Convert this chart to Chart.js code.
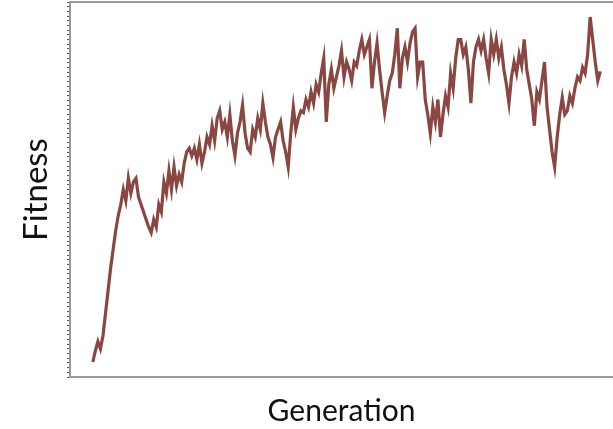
<!DOCTYPE html>
<html>
<head>
<meta charset="utf-8">
<script src="https://cdn.jsdelivr.net/npm/chart.js@4.4.0/dist/chart.umd.min.js"></script>
<style>
  html, body { margin: 0; padding: 0; background: #ffffff; overflow: hidden; }
  #wrap { width: 613px; height: 429px; position: relative; }
</style>
</head>
<body>
<div id="wrap"><canvas id="fitnessChart"></canvas></div>
<script>
// first generation plotted, and fitness per generation
const firstGeneration = 9;
const fitnessValues = [
  4, 7, 9.5, 7.5, 11, 17, 23, 29, 34, 39,
  43, 46, 50, 47, 53, 49, 52, 53, 48, 46,
  44, 42, 40, 38.5, 42, 40, 46, 44, 52, 49,
  55, 50, 56, 51, 54, 52, 57, 60, 61, 59,
  61, 58, 62, 57, 60, 64, 62, 67, 63, 69,
  71, 66, 68, 64, 70, 63, 59, 65, 68, 72.5,
  65, 61, 60, 66, 64, 69, 66, 73, 68, 64,
  62, 58.5, 64, 66, 68, 63, 60, 56, 65, 72,
  66, 69, 71, 70.5, 74, 72, 76, 73, 78, 76,
  81, 85, 68, 78, 82, 77, 80, 83, 87, 80,
  84, 82, 79, 84, 83, 87, 90, 86, 88, 90,
  77, 84, 89, 82, 76, 70.5, 75, 79, 81, 86,
  93, 77, 85, 88, 84, 89, 92, 93, 80, 84,
  84, 74, 70, 65, 72, 68, 74, 64, 70, 75,
  72, 81, 77, 85, 90, 90, 86, 88, 82, 73,
  84, 88, 90, 87, 90, 85, 81, 90, 86, 90,
  85, 88, 82, 78, 73, 80, 84, 81, 86, 83,
  90, 82, 78, 74, 67, 76, 74, 79, 84, 72,
  66, 60, 56, 64, 70, 74.5, 70, 71, 75, 73,
  77, 80, 79, 82.5, 81, 86, 96, 90, 84, 79,
  81.5
];
const xTitle = 'Generation';
const yTitle = 'Fitness';

const axisGray = '#9a9a9a';
const lineColor = '#8a4742';

const points = fitnessValues.map((v, i) => ({ x: firstGeneration + i, y: v }));

// top edge of the plot frame
const frameTop = {
  id: 'frameTop',
  afterDraw(chart) {
    const { ctx, chartArea } = chart;
    ctx.save();
    ctx.strokeStyle = axisGray;
    ctx.lineWidth = 2;
    ctx.beginPath();
    ctx.moveTo(chartArea.left, chartArea.top);
    ctx.lineTo(chartArea.right, chartArea.top);
    ctx.stroke();
    ctx.restore();
  }
};

const ctx = document.getElementById('fitnessChart').getContext('2d');
new Chart(ctx, {
  type: 'line',
  data: {
    datasets: [{
      data: points,
      borderColor: lineColor,
      borderWidth: 3.2,
      pointRadius: 0,
      tension: 0,
      fill: false
    }]
  },
  options: {
    responsive: true,
    maintainAspectRatio: false,
    animation: false,
    layout: { padding: { top: 2, right: 0, left: 0, bottom: 0 } },
    plugins: { legend: { display: false }, tooltip: { enabled: false } },
    scales: {
      x: {
        type: 'linear',
        min: 0,
        max: 214,
        ticks: { display: false },
        grid: { display: false },
        border: { display: true, color: axisGray, width: 2 },
        title: {
          display: true,
          text: xTitle,
          color: '#111',
          font: { family: 'Lato', size: 30 },
          padding: { top: 0, bottom: 0 }
        },
        afterFit(scale) { scale.height = 52; }
      },
      y: {
        min: 0,
        max: 100,
        ticks: { display: false, stepSize: 1.25, autoSkip: false },
        grid: {
          color: 'rgba(0,0,0,0)',
          tickColor: '#555',
          tickLength: 3,
          drawTicks: true
        },
        border: { display: true, color: axisGray, width: 2 },
        title: {
          display: true,
          text: yTitle,
          color: '#111',
          font: { family: 'Lato', size: 33 },
          padding: { top: 17, bottom: 0 }
        },
        afterFit(scale) { scale.width = 70; }
      }
    }
  },
  plugins: [frameTop]
});
</script>
</body>
</html>
